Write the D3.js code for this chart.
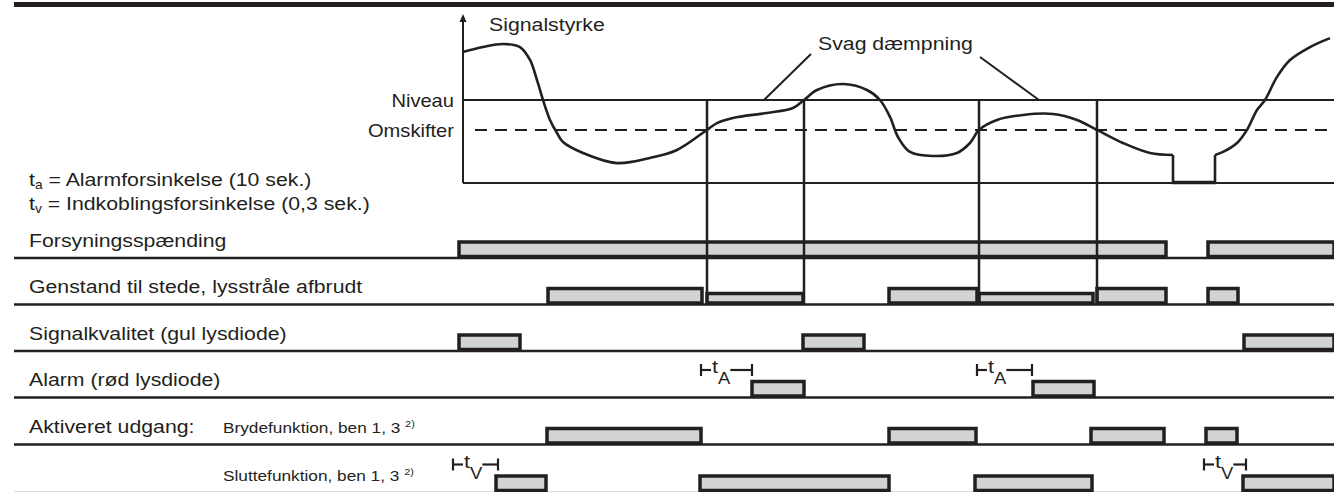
<!doctype html>
<html>
<head>
<meta charset="utf-8" />
<title>Signalstyrke - tidsdiagram</title>
<script src="https://cdn.jsdelivr.net/npm/d3@7/dist/d3.min.js"></script>
<style>
    body { margin: 0; background: #fff; }
    text { font-family: "Liberation Sans", Arial, Helvetica, sans-serif; fill: #231f20; }
</style>
</head>
<body>
<svg id="chart" width="1334" height="492"></svg>
<script>

    // time runs 0..132 across the sheet, signal strength 0..100
    var niveau = 50;
    var omskifter = 32;
    var axisT = 44.9;

    // signal strength curve (three pieces: before notch, notch, after)
    var sigAT = [44.9, 46.9, 48.9, 50.6, 51.6, 52.3, 52.9, 53.6, 54.3, 54.9, 56.9, 60.3, 63.6, 66.3, 69.3, 70.3, 71.9, 75.3, 77.9, 79.0,
                 80.3, 82.9, 85.3, 86.6, 87.6, 88.4, 89.6, 91.9, 94.3, 95.6, 96.5, 98.3, 100.9, 103.9, 106.3, 108.3, 110.9, 113.6, 115.9];
    var sigAV = [78.9, 81.9, 83.7, 81.9, 74.1, 62.0, 50, 38.0, 30.1, 24.7, 18.1, 12.0, 15.1, 19.9, 32, 36.1, 39.2, 42.2, 45.2, 50,
                 56.0, 59.6, 56.0, 50, 39.8, 27.7, 18.7, 16.3, 18.1, 24.1, 32, 38.0, 41.0, 41.6, 38.0, 32, 24.1, 18.1, 16.9];
    var notchT = [115.9, 115.9, 120.1, 120.1];
    var notchV = [16.9, 0, 0, 16.9];
    var sigCT = [120.1, 120.9, 122.3, 123.3, 124.3, 125.1, 126.3, 127.6, 129.6, 131.6];
    var sigCV = [16.9, 18.7, 24.1, 32, 44.0, 50, 63.9, 74.1, 81.9, 87.3];

    // switching moments (vertical lines)
    var events = [69.3, 79.0, 96.5, 108.3];

    // "Svag dæmpning" pointers
    var leaderFromT = [79.7, 96.6];
    var leaderFromV = [77.7, 75.9];
    var leaderToT = [75.0, 102.5];

    // rows of the timing chart
    var rowLabels = ['Forsyningsspænding', 'Genstand til stede, lysstråle afbrudt', 'Signalkvalitet (gul lysdiode)',
                     'Alarm (rød lysdiode)', 'Aktiveret udgang:', ''];
    var subLabels = ['', '', '', '', 'Brydefunktion, ben 1, 3 ', 'Sluttefunktion, ben 1, 3 '];
    var rowBars = [
        [[44.5, 115.2], [119.4, 132]],
        [[53.4, 68.8], [69.3, 78.9, 'low'], [87.5, 96.3], [96.5, 107.9, 'low'], [108.3, 115.2], [119.4, 122.4]],
        [[44.5, 50.6], [78.9, 85.0], [123.0, 132]],
        [[73.8, 79.0], [101.9, 108.0]],
        [[53.3, 68.7], [87.5, 96.2], [107.7, 115.0], [119.2, 122.3]],
        [[48.2, 53.2], [68.6, 87.5], [96.1, 107.8], [122.9, 132]]
    ];

    // delay brackets t_A / t_V
    var delayStart = [68.7, 96.3, 43.9, 119.0];
    var delayEnd = [73.8, 101.8, 48.4, 123.2];
    var delayRow = [3, 3, 5, 5];
    var delaySub = ['A', 'A', 'V', 'V'];

    var ink = '#231f20';
    var grey = '#d1d3d4';
    var SX = 1.15;   // the lettering in the source is set a bit wide
    var rowBase = [258, 304.5, 351, 397.5, 444.5, 492];

    var svg = d3.select('#chart');
    var x = d3.scaleLinear().domain([0, 132]).range([14, 1334]);
    var y = d3.scaleLinear().domain([0, 100]).range([183, 17]);

    function put(str, px, py, size, anchor) {
        return svg.append('text')
            .attr('transform', 'translate(' + px + ',' + py + ') scale(' + SX + ',1)')
            .attr('text-anchor', anchor || 'start')
            .style('font-size', size + 'px')
            .text(str);
    }

    // heavy rule at the top
    svg.append('rect')
        .attr('x', x(0)).attr('y', 2)
        .attr('width', x(132) - x(0)).attr('height', 5)
        .style('fill', ink);

    // signal axes
    svg.append('line')
        .attr('x1', x(axisT)).attr('x2', x(axisT))
        .attr('y1', y(0)).attr('y2', y(100))
        .style('stroke', ink).style('stroke-width', 2);
    svg.append('path')
        .attr('d', 'M' + x(axisT) + ',' + (y(100) - 3) + 'l-3.5,8h7z')
        .style('fill', ink);
    svg.append('line')
        .attr('x1', x(axisT)).attr('x2', x(132))
        .attr('y1', y(0)).attr('y2', y(0))
        .style('stroke', ink).style('stroke-width', 2);

    // thresholds
    svg.append('line')
        .attr('x1', x(axisT)).attr('x2', x(132))
        .attr('y1', y(niveau)).attr('y2', y(niveau))
        .style('stroke', ink).style('stroke-width', 2);
    svg.append('line')
        .attr('x1', x(axisT) + 12).attr('x2', x(132))
        .attr('y1', y(omskifter)).attr('y2', y(omskifter))
        .style('stroke', ink).style('stroke-width', 2)
        .style('stroke-dasharray', '12,8');

    // signal curve
    var smooth = d3.line()
        .x(function (d) { return x(d[0]); })
        .y(function (d) { return y(d[1]); })
        .curve(d3.curveCatmullRom.alpha(0.5));
    var straight = d3.line()
        .x(function (d) { return x(d[0]); })
        .y(function (d) { return y(d[1]); });

    svg.append('path')
        .attr('d', smooth(d3.zip(sigAT, sigAV)))
        .style('fill', 'none').style('stroke', ink).style('stroke-width', 2.6);
    svg.append('path')
        .attr('d', straight(d3.zip(notchT, notchV)))
        .style('fill', 'none').style('stroke', ink).style('stroke-width', 2.6);
    svg.append('path')
        .attr('d', smooth(d3.zip(sigCT, sigCV)))
        .style('fill', 'none').style('stroke', ink).style('stroke-width', 2.6);
    svg.append('line')
        .attr('x1', x(notchT[1])).attr('x2', x(notchT[2]))
        .attr('y1', y(0) - 1).attr('y2', y(0) - 1)
        .style('stroke', ink).style('stroke-width', 2.5);

    // leaders for "Svag dæmpning"
    leaderFromT.forEach(function (t, i) {
        svg.append('line')
            .attr('x1', x(t)).attr('y1', y(leaderFromV[i]))
            .attr('x2', x(leaderToT[i])).attr('y2', y(niveau))
            .style('stroke', ink).style('stroke-width', 2);
    });

    // row baselines
    rowBase.forEach(function (b, i) {
        svg.append('line')
            .attr('x1', x(0)).attr('x2', x(132))
            .attr('y1', b).attr('y2', b)
            .style('stroke', i === 5 ? '#cfcfcf' : ink)
            .style('stroke-width', i === 5 ? 1.5 : 2.5);
    });

    // bars
    rowBars.forEach(function (bars, i) {
        svg.append('g').selectAll('rect')
            .data(bars)
            .enter()
            .append('rect')
                .attr('x', function (d) { return x(d[0]); })
                .attr('y', function (d) { return rowBase[i] - (d[2] === 'low' ? 11 : 16); })
                .attr('width', function (d) { return x(d[1]) - x(d[0]); })
                .attr('height', function (d) { return (d[2] === 'low' ? 11 : 16) - 1.5; })
                .style('fill', grey)
                .style('stroke', ink)
                .style('stroke-width', 3.5);
    });

    // switching lines from the curve down to the object row
    svg.append('g').selectAll('line')
        .data(events)
        .enter()
        .append('line')
            .attr('x1', function (d) { return x(d); })
            .attr('x2', function (d) { return x(d); })
            .attr('y1', y(niveau))
            .attr('y2', rowBase[1])
            .style('stroke', ink)
            .style('stroke-width', 2.5);

    // delay brackets
    delayStart.forEach(function (t, i) {
        var x1 = x(t), x2 = x(delayEnd[i]);
        var yy = rowBase[delayRow[i]] - 27.5;
        var g = svg.append('g').style('stroke', ink).style('stroke-width', 2.2);
        g.append('line').attr('x1', x1).attr('x2', x1).attr('y1', yy - 6).attr('y2', yy + 6);
        g.append('line').attr('x1', x2).attr('x2', x2).attr('y1', yy - 6).attr('y2', yy + 6);
        g.append('line').attr('x1', x1).attr('x2', x1 + 10).attr('y1', yy).attr('y2', yy);
        var tx = put('t', x1 + 11, yy + 3, 19);
        tx.append('tspan').attr('dy', 11).style('font-size', '16px').text(delaySub[i]);
        var w = tx.node().getComputedTextLength() * SX;
        g.append('line').attr('x1', x1 + 11 + w).attr('x2', x2).attr('y1', yy).attr('y2', yy);
    });

    // texts
    put('Signalstyrke', 489, 31, 18.5);
    put('Svag dæmpning', 818, 50, 18.5);
    put('Niveau', 454, y(niveau) + 7, 17.5, 'end');
    put('Omskifter', 454, y(omskifter) + 7, 17.5, 'end');

    var ta = put('t', 29, 186, 18.5);
    ta.append('tspan').attr('dy', 3).style('font-size', '12px').text('a');
    ta.append('tspan').attr('dy', -3).text(' = Alarmforsinkelse (10 sek.)');
    var tv = put('t', 29, 210, 18.5);
    tv.append('tspan').attr('dy', 3).style('font-size', '12px').text('v');
    tv.append('tspan').attr('dy', -3).text(' = Indkoblingsforsinkelse (0,3 sek.)');

    rowLabels.forEach(function (s, i) {
        if (s) put(s, 29, rowBase[i] - 11.5, 18.5);
        if (subLabels[i]) {
            var t = put(subLabels[i], 223, rowBase[i] - 11.5, 15);
            t.append('tspan').attr('dy', -6).style('font-size', '9.5px').text('2)');
        }
    });

</script>
</body>
</html>
